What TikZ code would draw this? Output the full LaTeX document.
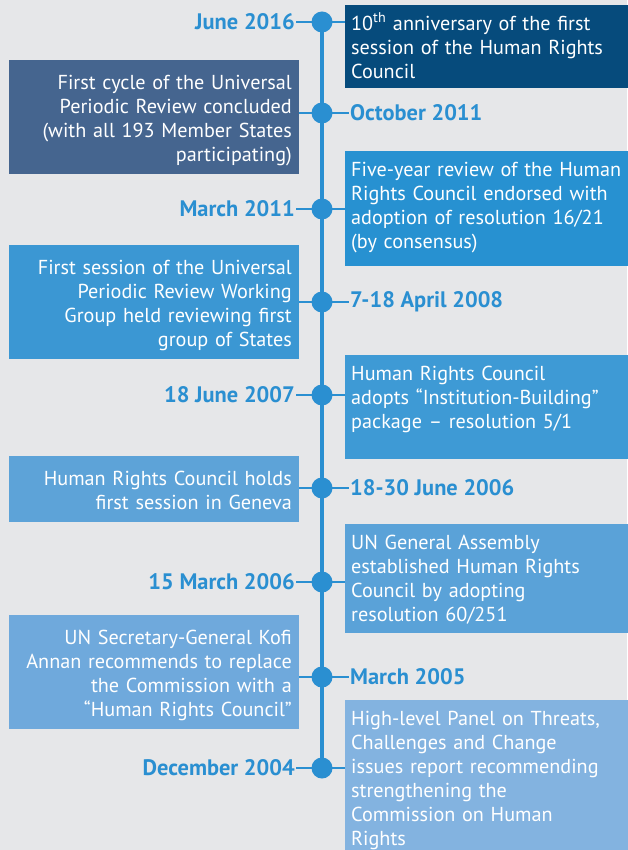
\documentclass[tikz,border=0pt]{standalone}
\usepackage{fontspec}
\setmainfont{PT Sans}
\usetikzlibrary{backgrounds}
\definecolor{pagegray}{HTML}{E6E7E9}
\definecolor{lineblue}{HTML}{2A8FD1}
\definecolor{boxA}{HTML}{064B7C}
\definecolor{boxB}{HTML}{45658F}
\definecolor{boxC}{HTML}{2791D1}
\definecolor{boxD}{HTML}{3B97D3}
\definecolor{boxE}{HTML}{3E9AD5}
\definecolor{boxF}{HTML}{5DA3D8}
\definecolor{boxG}{HTML}{5AA2D8}
\definecolor{boxH}{HTML}{6FA9DC}
\definecolor{boxI}{HTML}{83B3E0}
\newcommand{\evtfont}{\fontsize{20.2}{24}\selectfont}
\newcommand{\datefont}{\fontsize{22.4}{26}\selectfont\bfseries}
\tikzset{
  evt/.style={fill=#1, text=white, inner xsep=6pt, inner ysep=0pt, font=\evtfont},
  rbox/.style={evt=#1, anchor=north west, text width=280pt, text height=25pt, align=left},
  lbox/.style={evt=#1, anchor=north east, text width=276pt, inner xsep=7pt, text height=29pt, align=right},
  dot/.style={circle, fill=lineblue, inner sep=0pt, minimum size=21pt},
  datel/.style={text=lineblue, font=\datefont, inner sep=1pt, anchor=east},
  dater/.style={datel, anchor=west},
  tick/.style={lineblue, line width=2.5pt},
  spine/.style={lineblue, line width=4.5pt}
}

\begin{document}
\begin{tikzpicture}[x=1pt,y=-1pt]
\useasboundingbox (0,0) rectangle (627,850);
\begin{scope}[on background layer]
  \fill[pagegray] (0,0) rectangle (627,850);
\end{scope}

% dots on the time line
\node[dot] (d1) at (322,22) {};
\node[dot] (d2) at (322,113) {};
\node[dot] (d3) at (322,209) {};
\node[dot] (d4) at (322,302) {};
\node[dot] (d5) at (322,395) {};
\node[dot] (d6) at (322,488) {};
\node[dot] (d7) at (322,582) {};
\node[dot] (d8) at (322,677) {};
\node[dot] (d9) at (322,768) {};

% dates
\node[datel] (t1) at (296,22) {June 2016};
\node[dater] (t2) at (349,113) {October 2011};
\node[datel] (t3) at (296,209) {March 2011};
\node[dater] (t4) at (349,302) {7-18 April 2008};
\node[datel] (t5) at (296,395) {18 June 2007};
\node[dater] (t6) at (349,488) {18-30 June 2006};
\node[datel] (t7) at (296,582) {15 March 2006};
\node[dater] (t8) at (349,677) {March 2005};
\node[datel] (t9) at (296,768) {December 2004};

% events
\node[rbox=boxA, text depth=58pt] (e1) at (345,5)
  {10\textsuperscript{th} anniversary of the first\\ session of the Human Rights\\ Council};
\node[lbox=boxB, text depth=85pt] (e2) at (299,60)
  {First cycle of the Universal\\ Periodic Review concluded\\ (with all 193 Member States\\ participating)};
\node[rbox=boxC, text depth=90pt] (e3) at (345,151)
  {Five-year review of the Human\\ Rights Council endorsed with\\ adoption of resolution 16/21\\ (by consensus)};
\node[lbox=boxD, text depth=85pt] (e4) at (299,245)
  {First session of the Universal\\ Periodic Review Working\\ Group held reviewing first\\ group of States};
\node[rbox=boxE, text depth=79pt] (e5) at (345,355)
  {Human Rights Council\\ adopts “Institution-Building”\\ package – resolution 5/1};
\node[lbox=boxF, text depth=37pt] (e6) at (299,456)
  {Human Rights Council holds\\ first session in Geneva};
\node[rbox=boxG, text depth=84pt] (e7) at (345,524)
  {UN General Assembly\\ established Human Rights\\ Council by adopting\\ resolution 60/251};
\node[lbox=boxH, text depth=85pt] (e8) at (299,615)
  {UN Secretary-General Kofi\\ Annan recommends to replace\\ the Commission with a\\ “Human Rights Council”};
\node[rbox=boxI, text depth=135pt] (e9) at (345,700)
  {High-level Panel on Threats,\\ Challenges and Change\\ issues report recommending\\ strengthening the\\ Commission on Human\\ Rights};

\begin{scope}[on background layer]
  \draw[spine] (d1.center) -- (d9.center);
  \foreach \i in {1,3,5,7,9}
    \draw[tick] (t\i.east) -- (d\i.center) -- (d\i -| e\i.west);
  \foreach \i in {2,4,6,8}
    \draw[tick] (e\i.east |- d\i) -- (d\i.center) -- (t\i.west);
\end{scope}
\end{tikzpicture}
\end{document}
